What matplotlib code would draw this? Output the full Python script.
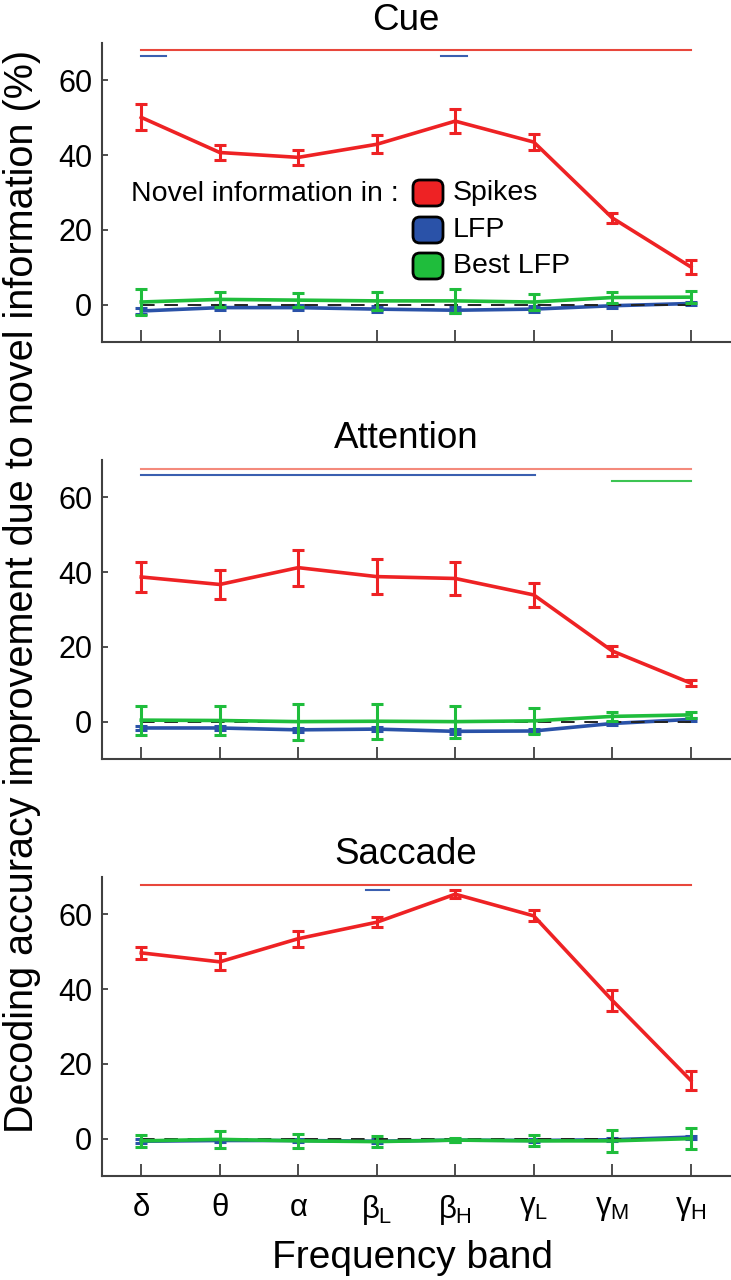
import matplotlib
matplotlib.use("Agg")
import matplotlib.pyplot as plt
from matplotlib.patches import FancyBboxPatch
import numpy as np

plt.rcParams['font.family'] = ['Liberation Sans', 'DejaVu Sans']
plt.rcParams['mathtext.fontset'] = 'custom'
plt.rcParams['mathtext.rm'] = 'Liberation Sans'
plt.rcParams['mathtext.it'] = 'Liberation Sans'
plt.rcParams['mathtext.bf'] = 'Liberation Sans'

# frequency bands
bands = [r'$\delta$', r'$\theta$', r'$\alpha$', r'$\beta_\mathrm{L}$', r'$\beta_\mathrm{H}$',
         r'$\gamma_\mathrm{L}$', r'$\gamma_\mathrm{M}$', r'$\gamma_\mathrm{H}$']
xpos = np.arange(1, 9)

# Cue
cue_spk = [50.1, 40.7, 39.4, 42.9, 49.1, 43.5, 23.2, 10.1]
cue_spk_err = [3.5, 2.1, 2.0, 2.4, 3.3, 2.1, 1.3, 1.8]
cue_best = [0.7, 1.4, 1.2, 1.0, 1.0, 0.7, 1.9, 2.0]
cue_best_err = [3.5, 2.1, 1.9, 2.4, 3.2, 2.1, 1.4, 1.6]
cue_lfp = [-1.7, -0.8, -0.8, -1.2, -1.5, -1.2, -0.3, 0.3]
cue_lfp_err = [0.8, 0.6, 0.6, 0.7, 0.8, 0.7, 0.5, 0.5]

# Attention
att_spk = [38.7, 36.7, 41.2, 38.8, 38.3, 33.9, 18.9, 10.3]
att_spk_err = [3.9, 4.0, 4.8, 4.7, 4.4, 3.3, 1.4, 0.9]
att_best = [0.4, 0.3, 0.0, 0.1, 0.0, 0.2, 1.4, 1.8]
att_best_err = [3.9, 4.0, 4.8, 4.7, 4.3, 3.4, 1.3, 0.9]
att_lfp = [-1.7, -1.7, -2.2, -2.0, -2.6, -2.5, -0.5, 0.6]
att_lfp_err = [0.6, 0.6, 0.6, 0.6, 0.6, 0.6, 0.4, 0.4]

# Saccade
sac_spk = [49.7, 47.3, 53.5, 57.9, 65.4, 59.6, 37.0, 15.6]
sac_spk_err = [1.7, 2.3, 2.1, 1.4, 1.0, 1.5, 2.8, 2.6]
sac_best = [-0.6, -0.2, -0.6, -0.8, -0.4, -0.6, -0.6, 0.0]
sac_best_err = [1.6, 2.3, 1.9, 1.5, 0.5, 1.5, 3.0, 2.9]
sac_lfp = [-0.7, -0.5, -0.5, -0.7, -0.4, -0.5, -0.3, 0.4]
sac_lfp_err = [0.5, 0.5, 0.5, 0.5, 0.4, 0.5, 0.4, 0.4]

# significance bars: (start, end, level)
cue_sig_spk = [(1, 8, 68.1)]
cue_sig_lfp = [(1, 1.31, 66.5), (4.82, 5.15, 66.5)]
cue_sig_best = []
att_sig_spk = [(1, 8, 67.6)]
att_sig_lfp = [(1, 6.02, 66.1)]
att_sig_best = [(7, 8, 64.5)]
sac_sig_spk = [(1, 8, 67.9)]
sac_sig_lfp = [(3.86, 4.16, 66.5)]
sac_sig_best = []

titles = ['Cue', 'Attention', 'Saccade']

RED = '#ee2224'
BLUE = '#2a52a8'
GREEN = '#1fbd3c'

panels = [
    (cue_spk, cue_spk_err, cue_best, cue_best_err, cue_lfp, cue_lfp_err,
     cue_sig_spk, cue_sig_lfp, cue_sig_best),
    (att_spk, att_spk_err, att_best, att_best_err, att_lfp, att_lfp_err,
     att_sig_spk, att_sig_lfp, att_sig_best),
    (sac_spk, sac_spk_err, sac_best, sac_best_err, sac_lfp, sac_lfp_err,
     sac_sig_spk, sac_sig_lfp, sac_sig_best),
]
sig_red = ['#e8473c', '#f48a7c', '#e8473c']

fig = plt.figure(figsize=(7.31, 12.8), dpi=100)
W, H = 731.0, 1280.0
ax_left, ax_right = 102, 730
ax_bottoms = [342, 759, 1176]
ax_h = 299

axes = []
for i, p in enumerate(panels):
    spk, spk_e, best, best_e, lfp, lfp_e, s_spk, s_lfp, s_best = p
    ax = fig.add_axes([ax_left / W, 1 - ax_bottoms[i] / H, (ax_right - ax_left) / W, ax_h / H])
    axes.append(ax)

    ax.errorbar(xpos, lfp, yerr=lfp_e, color=BLUE, lw=2.6, elinewidth=2.2,
                capsize=4, capthick=2.2, zorder=3)
    ax.plot([1, 8], [0, 0], color='#222222', lw=1.4, dashes=(7, 5), zorder=4)
    ax.errorbar(xpos, best, yerr=best_e, color=GREEN, lw=2.6, elinewidth=2.2,
                capsize=4, capthick=2.2, zorder=5)
    ax.errorbar(xpos, spk, yerr=spk_e, color=RED, lw=2.6, elinewidth=2.2,
                capsize=4, capthick=2.2, zorder=6)

    for (a, b, lev) in s_spk:
        ax.plot([a, b], [lev, lev], color=sig_red[i], lw=1.5)
    for (a, b, lev) in s_lfp:
        ax.plot([a, b], [lev, lev], color='#3a5fb0', lw=1.5)
    for (a, b, lev) in s_best:
        ax.plot([a, b], [lev, lev], color='#3cc453', lw=1.5)

    ax.set_xlim(0.5, 8.5)
    ax.set_ylim(-10, 70)
    ax.set_yticks([0, 20, 40, 60])
    ax.set_xticks(xpos)
    if i == 2:
        ax.set_xticklabels(bands, fontsize=22.5)
    else:
        ax.set_xticklabels([])
    for s in ['top', 'right']:
        ax.spines[s].set_visible(False)
    for s in ['left', 'bottom']:
        ax.spines[s].set_color('#404040')
        ax.spines[s].set_linewidth(1.5)
    ax.tick_params(axis='x', direction='in', length=9, width=1.3, color='#404040', pad=12)
    ax.tick_params(axis='y', direction='in', length=4, width=1.3, color='#404040',
                   labelsize=22, pad=7)
    ax.set_title(titles[i], fontsize=26.5, x=0.484, pad=9)

# legend inside the Cue panel
ax0 = axes[0]
ax0.text(0.473, 0.495, 'Novel information in :', transform=ax0.transAxes,
         ha='right', va='center', fontsize=20.5)
leg_labels = ['Spikes', 'LFP', 'Best LFP']
leg_colors = [RED, BLUE, GREEN]
leg_y = [193, 230, 266]
for lab, col, ly in zip(leg_labels, leg_colors, leg_y):
    box = FancyBboxPatch(((413) / 100, (H - ly - 13) / 100), 0.30, 0.26,
                         boxstyle='round,pad=0,rounding_size=0.07',
                         transform=fig.dpi_scale_trans, fc=col, ec='black', lw=2)
    fig.add_artist(box)
    fig.text(453 / W, 1 - ly / H, lab, ha='left', va='center', fontsize=20.5)

fig.text(22 / W, 1 - 591 / H, 'Decoding accuracy improvement due to novel information (%)',
         rotation=90, ha='center', va='center', fontsize=28.5)
fig.text(413 / W, 1 - 1258 / H, 'Frequency band', ha='center', va='center', fontsize=28)

fig.savefig('out.png', dpi=100)
